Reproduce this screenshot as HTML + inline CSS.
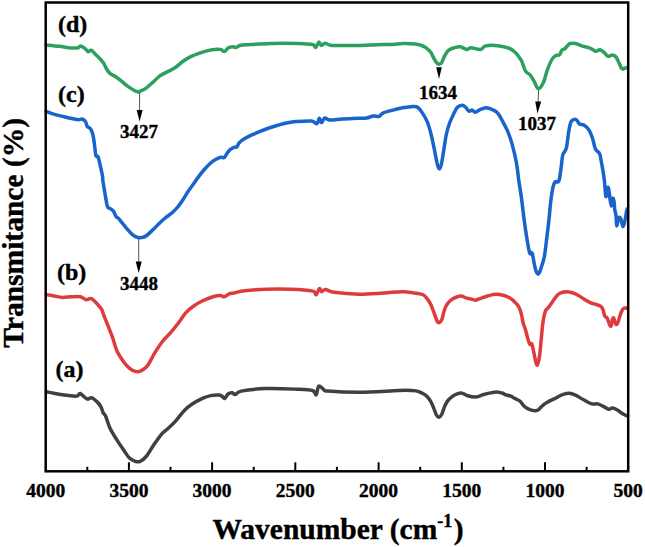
<!DOCTYPE html>
<html><head><meta charset="utf-8"><style>
html,body{margin:0;padding:0;background:#fff;}
svg{display:block;}
text{font-family:"Liberation Serif",serif;font-weight:bold;stroke:#000;stroke-width:0.4px;}
</style></head><body>
<svg width="645" height="547" viewBox="0 0 645 547">
<rect width="645" height="547" fill="#fff"/>
<g fill="none" stroke-width="3.5" stroke-linejoin="round" stroke-linecap="round">
<path stroke="#2ca05e" d="M46.3,45.0 C48.5,45.2 55.8,45.8 59.5,46.3 C63.2,46.8 65.7,47.5 68.8,47.8 C71.9,48.0 76.2,48.1 78.1,47.8 C80.0,47.5 79.2,45.9 80.4,46.0 C81.6,46.1 83.8,47.6 85.1,48.6 C86.4,49.6 87.2,51.4 88.2,51.7 C89.2,52.0 90.0,49.7 91.3,50.2 C92.6,50.7 94.4,53.2 95.9,54.8 C97.5,56.3 99.3,58.1 100.6,59.5 C101.9,60.9 102.8,61.9 103.7,63.3 C104.6,64.7 105.0,66.3 106.0,68.0 C107.0,69.7 108.4,72.0 109.9,73.4 C111.5,74.8 113.4,75.2 115.3,76.5 C117.2,77.8 119.2,79.4 121.5,81.2 C123.8,83.0 126.7,85.7 129.3,87.4 C131.9,89.2 135.2,91.1 137.0,91.7 C138.8,92.3 138.6,91.8 140.1,91.2 C141.6,90.6 144.1,89.5 146.2,88.1 C148.2,86.7 150.1,84.8 152.4,82.7 C154.7,80.6 157.6,77.6 160.2,75.7 C162.8,73.8 165.3,73.0 167.9,71.6 C170.5,70.2 173.1,69.0 175.7,67.2 C178.3,65.4 180.8,62.8 183.4,61.0 C186.0,59.2 188.6,57.7 191.2,56.4 C193.8,55.1 196.3,54.2 198.9,53.3 C201.5,52.4 204.1,51.5 206.7,50.9 C209.3,50.2 212.1,49.6 214.4,49.4 C216.7,49.1 218.9,49.1 220.6,49.4 C222.3,49.7 223.2,51.7 224.5,51.4 C225.8,51.1 227.0,48.6 228.4,47.8 C229.8,47.0 231.7,46.8 233.0,46.7 C234.3,46.6 234.8,47.6 236.1,47.4 C237.4,47.1 238.1,45.7 240.7,45.2 C243.3,44.7 247.1,44.8 251.5,44.5 C255.9,44.2 261.8,43.9 267.0,43.7 C272.2,43.5 277.3,43.2 282.5,43.2 C287.7,43.2 293.4,43.3 298.0,43.5 C302.6,43.7 307.8,44.1 310.4,44.3 C313.0,44.5 312.6,44.2 313.5,44.7 C314.4,45.2 314.9,47.8 315.8,47.4 C316.7,47.0 318.0,42.4 318.9,42.1 C319.8,41.8 320.3,45.3 321.3,45.5 C322.3,45.7 323.6,43.2 325.1,43.2 C326.7,43.2 327.2,44.8 330.6,45.2 C334.0,45.6 340.4,45.5 345.5,45.5 C350.6,45.5 355.8,45.6 361.0,45.5 C366.2,45.4 371.3,44.9 376.5,44.7 C381.7,44.5 387.6,44.6 392.0,44.4 C396.4,44.2 399.0,43.7 402.9,43.6 C406.8,43.5 412.2,43.7 415.3,44.0 C418.4,44.3 419.7,44.9 421.5,45.5 C423.3,46.1 424.6,46.6 426.2,47.8 C427.8,49.0 429.6,50.7 430.9,52.5 C432.2,54.3 433.0,56.9 434.0,58.7 C435.0,60.5 436.2,62.4 437.1,63.3 C438.0,64.2 438.6,64.2 439.4,64.1 C440.2,64.0 440.8,64.0 441.7,62.6 C442.6,61.2 443.6,57.7 444.8,55.6 C446.0,53.5 447.1,51.5 448.7,50.2 C450.2,48.9 452.2,48.4 454.1,47.8 C456.0,47.2 458.2,46.4 460.3,46.7 C462.4,47.0 464.7,49.2 466.5,49.4 C468.3,49.6 468.9,47.8 471.2,47.8 C473.5,47.8 478.2,49.7 480.5,49.4 C482.8,49.1 482.8,46.9 485.1,46.2 C487.4,45.5 491.3,45.3 494.4,45.4 C497.5,45.5 501.1,46.3 503.7,46.8 C506.3,47.3 507.9,47.5 510.0,48.6 C512.1,49.7 514.3,51.2 516.2,53.3 C518.1,55.4 520.1,58.0 521.6,61.0 C523.1,64.0 524.1,68.8 525.5,71.1 C526.9,73.4 528.8,73.3 530.2,75.0 C531.6,76.7 532.7,78.9 534.0,81.2 C535.3,83.5 536.7,88.3 538.2,88.6 C539.8,88.8 541.8,85.8 543.3,82.7 C544.8,79.7 545.8,74.2 547.2,70.3 C548.6,66.4 550.5,62.0 551.9,59.5 C553.3,57.0 554.4,56.4 555.7,55.6 C557.0,54.8 558.6,55.7 559.6,54.8 C560.6,53.9 561.0,51.2 561.9,50.2 C562.8,49.2 563.7,49.7 565.0,48.6 C566.3,47.5 568.0,44.5 569.7,43.6 C571.5,42.8 573.5,43.1 575.5,43.5 C577.5,43.9 579.2,45.0 581.7,45.8 C584.2,46.6 588.2,47.4 590.5,48.3 C592.8,49.2 594.0,51.0 595.6,51.2 C597.2,51.4 598.5,49.5 600.0,49.7 C601.5,50.0 603.1,51.6 604.4,52.7 C605.7,53.8 606.7,55.9 608.0,56.3 C609.3,56.7 611.1,54.8 612.4,54.9 C613.7,55.0 614.9,55.7 616.0,57.0 C617.1,58.3 618.0,60.9 619.0,62.9 C620.0,64.8 620.9,67.8 621.9,68.7 C622.9,69.6 623.9,68.5 624.8,68.3 C625.7,68.1 626.9,67.5 627.3,67.3"/>
<path stroke="#1863cc" d="M46.2,111.4 C47.3,111.8 50.2,113.1 52.8,113.9 C55.3,114.7 58.6,115.4 61.5,116.1 C64.4,116.8 67.5,117.7 70.3,118.3 C73.1,118.9 76.5,119.6 78.4,119.7 C80.4,119.8 80.8,118.6 82.0,119.0 C83.2,119.4 84.9,120.7 85.7,121.9 C86.5,123.1 86.2,125.1 87.1,126.3 C87.9,127.5 89.8,127.7 90.8,129.2 C91.8,130.7 92.4,132.6 93.0,135.1 C93.6,137.6 93.9,140.5 94.4,143.9 C94.9,147.3 95.3,153.4 95.9,155.6 C96.5,157.8 97.4,155.3 98.1,157.0 C98.8,158.7 99.6,162.6 100.3,165.8 C101.0,169.0 102.0,173.3 102.5,176.0 C103.0,178.7 102.5,178.5 103.0,181.7 C103.5,184.8 104.5,190.8 105.2,194.9 C105.9,199.0 106.7,204.3 107.4,206.5 C108.1,208.7 108.6,207.6 109.6,208.3 C110.6,209.0 112.2,209.5 113.3,210.9 C114.4,212.3 115.3,215.6 116.2,216.8 C117.1,218.0 117.4,217.2 118.4,218.2 C119.4,219.2 120.5,220.8 122.0,222.6 C123.5,224.4 125.4,227.1 127.2,229.2 C129.0,231.3 131.2,233.7 133.0,235.1 C134.8,236.5 136.4,237.1 138.1,237.5 C139.8,237.9 141.8,237.6 143.2,237.3 C144.6,237.0 144.9,236.8 146.6,235.5 C148.3,234.2 151.0,231.6 153.2,229.5 C155.4,227.4 157.7,224.8 159.7,222.9 C161.7,221.0 163.2,219.7 165.2,218.0 C167.2,216.3 169.8,214.8 171.8,213.0 C173.8,211.2 175.4,209.8 177.3,207.5 C179.2,205.2 181.4,202.0 183.3,199.2 C185.2,196.3 187.0,193.1 188.8,190.4 C190.6,187.7 192.5,185.4 194.3,182.8 C196.1,180.2 197.9,177.5 199.7,175.1 C201.5,172.7 203.4,170.5 205.2,168.5 C207.0,166.5 209.0,164.5 210.7,163.0 C212.3,161.5 213.4,160.6 215.1,159.7 C216.8,158.8 219.0,157.7 220.6,157.3 C222.2,156.9 223.3,158.2 224.4,157.5 C225.5,156.8 226.1,154.6 227.1,153.2 C228.1,151.8 229.1,150.3 230.4,149.3 C231.7,148.3 233.7,147.5 234.8,147.1 C235.9,146.7 236.2,147.6 237.0,146.8 C237.8,146.1 238.0,144.0 239.3,142.6 C240.6,141.2 242.6,139.9 244.8,138.6 C247.0,137.3 249.8,135.9 252.4,134.7 C255.0,133.5 257.4,132.4 260.1,131.3 C262.9,130.2 266.0,129.0 268.9,128.0 C271.8,127.0 274.8,126.0 277.7,125.2 C280.6,124.4 283.3,123.6 286.4,123.0 C289.4,122.4 291.8,121.8 296.0,121.5 C300.2,121.2 308.0,120.6 311.5,121.0 C315.0,121.4 315.6,124.2 316.9,123.7 C318.2,123.2 318.5,118.5 319.3,118.3 C320.1,118.1 320.7,122.6 321.6,122.6 C322.5,122.5 323.3,118.4 324.7,118.0 C326.1,117.6 327.1,119.9 330.1,120.1 C333.1,120.3 337.9,119.3 342.5,119.0 C347.1,118.7 354.0,118.5 358.0,118.3 C362.0,118.1 364.1,118.4 366.6,118.0 C369.1,117.6 371.1,116.4 373.2,116.1 C375.2,115.8 377.3,116.9 378.9,116.4 C380.5,115.9 380.7,114.1 383.0,113.1 C385.3,112.0 389.6,111.0 392.9,110.1 C396.2,109.2 399.5,108.4 402.8,107.8 C406.1,107.2 410.1,106.6 412.6,106.5 C415.1,106.4 416.0,106.2 417.6,107.3 C419.2,108.4 420.9,110.6 422.5,113.1 C424.1,115.6 426.0,118.8 427.4,122.1 C428.8,125.4 429.6,128.6 430.7,132.8 C431.8,137.1 432.9,142.4 434.0,147.6 C435.1,152.8 436.4,160.5 437.3,164.1 C438.2,167.7 438.6,169.0 439.3,169.0 C440.0,169.0 440.6,167.4 441.4,164.1 C442.2,160.8 443.1,154.2 443.9,149.3 C444.7,144.4 445.4,138.9 446.3,134.5 C447.2,130.1 448.4,126.3 449.6,123.0 C450.8,119.7 452.0,117.3 453.3,114.7 C454.6,112.1 455.9,108.9 457.4,107.3 C458.9,105.7 460.9,105.2 462.3,105.2 C463.7,105.2 464.5,106.3 465.6,107.3 C466.7,108.3 467.8,110.6 468.9,111.1 C470.0,111.6 471.1,109.9 472.2,110.1 C473.3,110.3 474.3,112.3 475.5,112.3 C476.7,112.2 477.8,110.6 479.6,109.8 C481.4,109.0 484.0,107.7 486.2,107.7 C488.4,107.7 490.9,108.9 492.8,109.8 C494.7,110.7 496.1,111.2 497.7,113.1 C499.3,115.0 501.0,118.3 502.6,121.3 C504.2,124.3 506.1,127.6 507.6,131.2 C509.1,134.8 510.5,138.6 511.7,142.7 C512.9,146.8 514.0,151.5 515.0,155.9 C516.0,160.3 516.8,165.0 517.4,169.0 C518.0,173.0 518.0,175.1 518.7,180.0 C519.4,184.9 520.6,191.6 521.5,198.3 C522.4,205.0 523.3,213.5 524.2,220.2 C525.1,226.9 526.0,233.0 526.9,238.5 C527.8,244.0 528.8,250.7 529.7,253.1 C530.6,255.5 531.3,251.3 532.1,253.1 C532.9,254.9 533.6,261.1 534.3,264.1 C534.9,267.1 535.4,269.3 536.0,271.0 C536.6,272.7 537.2,274.0 537.8,274.2 C538.4,274.4 539.1,273.1 539.6,272.2 C540.1,271.2 540.1,271.1 540.9,268.5 C541.7,265.9 543.3,261.8 544.3,256.8 C545.3,251.8 545.9,244.6 546.7,238.5 C547.5,232.4 548.2,226.3 548.9,220.2 C549.6,214.1 550.0,207.4 550.7,201.9 C551.4,196.4 552.1,190.7 552.9,187.3 C553.7,184.0 554.3,182.9 555.3,181.8 C556.3,180.7 557.9,183.4 558.9,180.9 C559.9,178.4 560.6,171.1 561.2,166.8 C561.9,162.5 561.9,158.1 562.8,154.9 C563.7,151.7 565.4,151.8 566.4,147.8 C567.4,143.8 568.0,135.5 568.8,131.1 C569.6,126.7 570.1,123.6 571.1,121.6 C572.1,119.6 573.7,119.5 574.7,119.3 C575.7,119.1 576.3,119.6 577.1,120.4 C577.9,121.2 578.2,123.2 579.4,124.0 C580.6,124.8 582.6,124.2 584.2,125.2 C585.8,126.2 587.5,127.7 588.9,129.9 C590.3,132.1 591.4,135.1 592.5,138.3 C593.6,141.5 594.2,146.3 595.4,148.9 C596.6,151.5 598.7,151.8 599.6,153.7 C600.5,155.5 600.4,157.1 601.0,160.0 C601.6,162.9 602.4,167.6 603.0,171.0 C603.6,174.4 604.0,176.9 604.4,180.6 C604.8,184.2 605.1,190.3 605.4,192.9 C605.7,195.5 605.8,197.3 606.2,196.4 C606.6,195.5 607.3,188.2 607.8,187.4 C608.3,186.6 608.9,189.8 609.2,191.6 C609.6,193.4 609.5,196.0 609.9,198.4 C610.2,200.8 610.8,206.0 611.3,206.0 C611.8,206.0 612.1,199.2 612.6,198.4 C613.1,197.6 613.6,199.4 614.0,201.2 C614.4,203.0 614.4,206.9 614.7,209.4 C615.1,211.9 615.8,213.5 616.1,216.2 C616.4,218.9 616.2,225.6 616.7,225.8 C617.2,226.0 618.1,218.7 618.8,217.6 C619.5,216.5 620.2,217.5 620.9,219.0 C621.6,220.5 622.2,226.3 622.9,226.5 C623.6,226.7 624.4,222.8 625.0,220.4 C625.6,218.0 626.0,214.1 626.4,212.1 C626.8,210.1 627.1,209.3 627.3,208.7"/>
<path stroke="#de3c3c" d="M46.7,294.6 C48.1,294.9 52.4,295.6 55.0,296.1 C57.6,296.6 59.6,297.3 62.3,297.4 C65.0,297.5 68.4,296.9 71.4,296.8 C74.5,296.7 78.2,296.3 80.6,296.8 C83.0,297.3 84.2,299.4 86.0,299.7 C87.8,300.0 89.7,297.9 91.5,298.6 C93.3,299.3 95.3,302.0 97.0,303.8 C98.7,305.6 100.4,307.2 101.6,309.3 C102.8,311.4 103.2,313.9 104.3,316.6 C105.4,319.3 106.6,322.2 108.0,325.7 C109.4,329.2 111.1,333.3 112.6,337.6 C114.1,341.9 115.4,347.5 117.1,351.3 C118.8,355.1 120.6,357.6 122.6,360.4 C124.6,363.1 126.9,366.0 129.0,367.8 C131.1,369.6 133.4,370.9 135.4,371.4 C137.4,371.9 138.9,371.8 140.9,370.9 C142.9,370.0 145.0,368.9 147.3,365.9 C149.6,362.9 152.2,357.1 154.6,353.1 C157.0,349.2 159.2,345.7 161.9,342.2 C164.7,338.7 168.3,335.3 171.1,332.1 C173.8,328.9 176.0,326.2 178.4,323.0 C180.8,319.8 183.3,315.6 185.7,312.9 C188.1,310.1 190.2,308.5 193.0,306.5 C195.8,304.5 198.8,302.6 202.2,301.0 C205.5,299.4 210.1,297.7 213.1,296.8 C216.1,295.9 218.6,295.5 220.4,295.5 C222.2,295.5 222.6,297.1 224.1,296.8 C225.6,296.5 227.8,294.4 229.6,293.7 C231.4,293.0 232.6,293.3 235.1,292.8 C237.6,292.3 239.2,291.4 244.3,290.8 C249.5,290.2 258.2,289.5 266.0,289.2 C273.8,288.9 283.1,288.9 290.8,289.2 C298.6,289.5 308.3,290.2 312.5,291.1 C316.7,292.0 315.1,295.2 316.2,294.8 C317.3,294.4 318.4,289.1 319.3,288.6 C320.2,288.1 320.8,291.6 321.8,291.7 C322.8,291.8 323.4,289.4 325.5,289.5 C327.6,289.6 328.6,291.5 334.2,292.3 C339.8,293.1 350.7,294.1 359.0,294.2 C367.3,294.3 376.6,293.3 383.8,292.9 C391.0,292.5 397.0,291.6 402.4,291.7 C407.8,291.8 412.7,292.7 416.2,293.2 C419.7,293.7 421.4,293.8 423.2,294.7 C425.0,295.6 425.8,296.9 427.1,298.6 C428.4,300.3 429.6,302.1 430.9,304.8 C432.2,307.5 433.8,312.2 434.8,314.9 C435.8,317.6 436.4,319.8 437.1,321.1 C437.8,322.4 438.3,322.9 439.1,322.6 C439.9,322.3 441.0,321.4 441.8,319.5 C442.6,317.6 443.2,313.6 444.1,311.0 C445.0,308.4 445.9,305.9 447.2,304.0 C448.5,302.1 450.3,300.5 451.9,299.4 C453.4,298.2 454.9,297.7 456.5,297.1 C458.1,296.5 459.6,295.9 461.2,296.0 C462.8,296.1 464.2,297.3 465.8,297.8 C467.4,298.3 468.9,298.5 470.5,298.9 C472.1,299.3 473.6,300.2 475.1,300.2 C476.7,300.1 477.7,299.3 479.8,298.6 C481.9,297.9 484.9,296.7 487.5,296.0 C490.1,295.3 492.7,294.4 495.3,294.3 C497.9,294.2 500.6,294.6 503.0,295.2 C505.4,295.8 507.9,296.9 509.9,298.1 C511.9,299.3 513.4,300.7 514.9,302.2 C516.4,303.7 517.9,305.1 519.0,307.2 C520.1,309.3 520.8,312.0 521.5,314.6 C522.2,317.2 522.4,320.2 523.1,322.8 C523.8,325.4 524.8,327.4 525.6,330.2 C526.4,332.9 527.3,337.0 528.0,339.3 C528.7,341.6 529.1,343.4 529.7,344.2 C530.3,345.0 531.0,342.5 531.7,343.9 C532.4,345.3 533.1,349.3 533.8,352.4 C534.5,355.5 535.3,360.2 535.9,362.3 C536.5,364.4 536.8,365.9 537.4,364.8 C538.0,363.7 539.0,359.9 539.6,355.7 C540.2,351.4 540.7,344.8 541.2,339.3 C541.8,333.8 542.2,327.5 542.9,322.8 C543.6,318.1 544.3,313.9 545.3,311.3 C546.2,308.7 547.4,308.9 548.6,307.2 C549.8,305.5 551.2,303.5 552.7,301.4 C554.2,299.3 556.1,296.3 557.7,294.8 C559.4,293.3 560.7,292.8 562.6,292.3 C564.5,291.8 567.0,291.6 569.2,291.9 C571.4,292.2 573.5,292.9 575.8,294.0 C578.0,295.1 580.8,297.1 582.7,298.2 C584.6,299.3 585.7,300.1 587.1,300.9 C588.5,301.7 589.8,302.5 591.4,303.1 C593.0,303.7 595.3,304.1 596.9,304.7 C598.5,305.2 599.8,305.6 600.8,306.4 C601.8,307.2 602.4,308.1 603.0,309.7 C603.6,311.2 603.9,314.2 604.6,315.7 C605.3,317.1 606.5,316.9 607.3,318.4 C608.1,319.9 608.9,323.2 609.5,324.5 C610.1,325.8 610.7,326.8 611.2,326.1 C611.7,325.4 611.9,321.5 612.3,320.1 C612.7,318.7 613.2,317.7 613.6,317.9 C614.0,318.1 614.3,320.1 614.7,321.2 C615.1,322.3 615.6,324.2 616.1,324.5 C616.6,324.8 617.1,324.3 617.8,322.8 C618.4,321.3 619.3,317.8 620.0,315.7 C620.7,313.6 621.5,311.5 622.2,310.2 C622.9,308.9 623.6,308.3 624.3,308.0 C625.0,307.7 626.0,308.3 626.5,308.2 C627.0,308.1 627.2,307.6 627.3,307.5"/>
<path stroke="#404040" d="M46.5,391.8 C47.7,392.0 51.6,392.8 53.9,393.2 C56.2,393.6 57.9,394.1 60.4,394.5 C62.9,394.9 66.0,395.3 68.7,395.6 C71.5,395.9 75.0,396.5 76.9,396.1 C78.8,395.8 78.6,393.0 80.2,393.5 C81.8,394.0 84.9,398.2 86.8,398.9 C88.7,399.6 90.1,397.4 91.7,397.8 C93.3,398.2 95.1,400.0 96.6,401.4 C98.1,402.8 99.6,404.4 100.7,406.3 C101.8,408.2 102.4,411.2 103.2,412.9 C104.0,414.5 104.6,413.7 105.7,416.2 C106.8,418.7 108.0,423.9 109.8,427.7 C111.6,431.5 114.2,435.6 116.4,439.2 C118.6,442.8 120.8,446.0 123.0,449.1 C125.2,452.2 127.5,456.1 129.5,458.1 C131.6,460.2 133.5,460.8 135.3,461.4 C137.1,461.9 138.3,462.3 140.2,461.4 C142.1,460.5 144.4,458.6 146.6,456.0 C148.8,453.4 150.7,449.4 153.2,445.8 C155.7,442.2 158.9,437.2 161.4,434.3 C163.9,431.4 165.5,430.8 168.0,428.5 C170.5,426.2 173.5,423.3 176.2,420.3 C178.9,417.3 181.7,413.1 184.4,410.4 C187.1,407.6 189.6,405.8 192.6,403.8 C195.6,401.8 199.5,399.8 202.5,398.4 C205.5,397.0 208.0,396.2 210.7,395.6 C213.4,395.1 217.0,395.0 218.9,395.1 C220.8,395.2 221.2,395.8 222.2,396.4 C223.2,396.9 223.7,398.8 224.7,398.4 C225.7,398.0 226.8,394.9 228.0,394.0 C229.2,393.1 230.9,392.7 232.1,392.8 C233.3,392.9 233.9,394.8 235.4,394.5 C236.9,394.2 236.1,392.1 241.2,391.1 C246.3,390.1 256.7,388.9 266.0,388.6 C275.3,388.3 289.2,388.9 297.0,389.2 C304.8,389.5 309.3,389.6 312.5,390.5 C315.7,391.4 315.2,395.5 316.2,394.8 C317.2,394.1 317.5,387.0 318.7,386.1 C319.9,385.2 321.8,388.4 323.4,389.2 C324.9,390.0 322.1,390.6 328.0,391.1 C333.9,391.6 348.7,392.3 359.0,392.3 C369.3,392.3 382.2,391.5 390.0,391.1 C397.8,390.8 401.1,390.2 405.5,390.2 C409.9,390.2 413.4,390.4 416.2,390.9 C419.0,391.4 420.6,392.4 422.4,393.3 C424.2,394.2 425.7,395.0 427.1,396.4 C428.5,397.8 429.8,399.7 430.9,401.8 C432.0,403.9 433.1,406.6 434.0,408.8 C434.9,411.0 435.6,413.6 436.4,415.0 C437.2,416.4 437.8,417.4 438.7,417.3 C439.6,417.2 440.8,416.1 441.8,414.2 C442.8,412.3 443.7,408.1 444.9,405.7 C446.1,403.2 447.1,401.3 448.8,399.5 C450.5,397.7 452.9,395.9 455.0,394.8 C457.1,393.7 459.1,392.8 461.2,392.9 C463.3,393.0 465.1,394.9 467.4,395.6 C469.7,396.3 472.5,397.2 475.1,397.1 C477.7,397.0 480.3,395.5 482.9,394.8 C485.5,394.1 488.3,393.4 490.6,392.9 C492.9,392.4 494.7,391.9 496.8,392.0 C498.9,392.1 501.6,392.9 503.0,393.3 C504.4,393.7 503.7,394.1 505.0,394.6 C506.3,395.1 509.3,395.5 511.0,396.2 C512.7,396.9 513.6,397.8 515.1,398.6 C516.6,399.5 518.6,400.0 520.1,401.3 C521.6,402.6 522.7,405.0 524.2,406.3 C525.7,407.6 527.4,408.6 529.2,409.3 C531.0,410.0 533.7,410.6 535.2,410.7 C536.7,410.8 537.3,410.6 538.3,409.9 C539.3,409.2 539.8,408.0 541.3,406.7 C542.8,405.4 544.9,403.7 547.3,402.3 C549.6,400.9 552.9,399.5 555.4,398.2 C557.9,396.9 560.1,395.4 562.5,394.6 C564.9,393.8 567.3,393.1 569.5,393.2 C571.7,393.3 573.2,394.1 575.6,395.2 C578.0,396.3 580.9,398.4 583.6,399.8 C586.3,401.2 589.4,403.2 591.7,403.9 C594.1,404.6 595.7,403.4 597.7,403.9 C599.7,404.4 601.9,405.8 603.8,406.7 C605.6,407.6 607.3,409.1 608.8,409.3 C610.3,409.5 611.4,407.7 612.9,407.9 C614.4,408.1 616.4,409.4 617.9,410.3 C619.4,411.2 620.5,412.5 621.9,413.3 C623.2,414.1 625.1,414.9 626.0,415.4 C626.9,415.8 627.1,415.9 627.3,416.0"/>
</g>
<g stroke="#555" stroke-width="1">
<line x1="139.6" y1="92.5" x2="139.6" y2="112"/>
<line x1="138.7" y1="239" x2="138.7" y2="263"/>
<line x1="538.7" y1="90" x2="538" y2="103"/>
</g>
<g fill="#000">
<polygon points="136.6,110 142.6,110 139.6,121.5"/>
<polygon points="135.7,261.5 141.7,261.5 138.7,273"/>
<polygon points="436.2,67.3 441.8,67.3 439,79"/>
<polygon points="535.2,101.5 541.2,101.5 537.5,113.5"/>
</g>
<rect x="45.7" y="2.5" width="582.5" height="468.8" fill="none" stroke="#000" stroke-width="2.5"/>
<g stroke="#000" stroke-width="2"><line x1="87.3" y1="471.3" x2="87.3" y2="466.8"/><line x1="128.9" y1="471.3" x2="128.9" y2="462.3"/><line x1="170.5" y1="471.3" x2="170.5" y2="466.8"/><line x1="212.1" y1="471.3" x2="212.1" y2="462.3"/><line x1="253.7" y1="471.3" x2="253.7" y2="466.8"/><line x1="295.3" y1="471.3" x2="295.3" y2="462.3"/><line x1="336.9" y1="471.3" x2="336.9" y2="466.8"/><line x1="378.6" y1="471.3" x2="378.6" y2="462.3"/><line x1="420.2" y1="471.3" x2="420.2" y2="466.8"/><line x1="461.8" y1="471.3" x2="461.8" y2="462.3"/><line x1="503.4" y1="471.3" x2="503.4" y2="466.8"/><line x1="545.0" y1="471.3" x2="545.0" y2="462.3"/><line x1="586.6" y1="471.3" x2="586.6" y2="466.8"/></g>
<g font-size="19.5" text-anchor="middle"><text x="45.7" y="497">4000</text><text x="128.9" y="497">3500</text><text x="212.1" y="497">3000</text><text x="295.3" y="497">2500</text><text x="378.6" y="497">2000</text><text x="461.8" y="497">1500</text><text x="545.0" y="497">1000</text><text x="628.2" y="497">500</text></g>
<g font-size="24">
<text x="58" y="32.0">(d)</text>
<text x="58" y="102.2">(c)</text>
<text x="57" y="280.1">(b)</text>
<text x="55.6" y="377.4">(a)</text>
</g>
<g font-size="19" text-anchor="middle">
<text x="139" y="138">3427</text>
<text x="139" y="290">3448</text>
<text x="438" y="98.6">1634</text>
<text x="537" y="129.8">1037</text>
</g>
<text x="338" y="539.3" font-size="29.5" text-anchor="middle">Wavenumber (cm<tspan font-size="18" dy="-12">-1</tspan><tspan dy="12" dx="1.5">)</tspan></text>
<text transform="translate(23.2,232.8) rotate(-90)" font-size="29.5" text-anchor="middle">Transmitance (%)</text>
</svg>
</body></html>
